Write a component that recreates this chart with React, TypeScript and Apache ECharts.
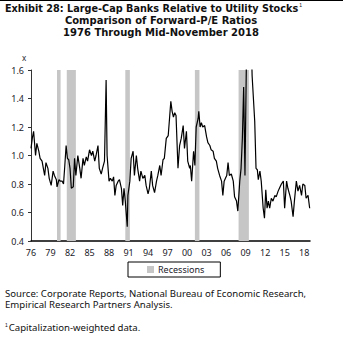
import React, { useEffect, useRef } from "react";
import * as echarts from "echarts";

const years = [
  1976.0, 1976.2, 1976.4, 1976.7, 1976.9, 1977.2, 1977.4, 1977.7, 1977.9, 1978.1,
  1978.3, 1978.6, 1978.8, 1979.1, 1979.4, 1979.6, 1979.9, 1980.0, 1980.3, 1980.5,
  1980.8, 1981.0, 1981.2, 1981.4, 1981.6, 1981.8, 1982.0, 1982.2, 1982.5, 1982.7,
  1982.9, 1983.2, 1983.5, 1983.7, 1984.0, 1984.2, 1984.5, 1984.7, 1985.0, 1985.3,
  1985.5, 1985.8, 1986.0, 1986.3, 1986.5, 1986.8, 1987.0, 1987.3, 1987.55, 1987.7,
  1988.0, 1988.2, 1988.5, 1988.7, 1988.9, 1989.1, 1989.4, 1989.6, 1989.9, 1990.1,
  1990.3, 1990.5, 1990.8, 1990.9, 1991.2, 1991.4, 1991.7, 1991.9, 1992.2, 1992.4,
  1992.7, 1992.9, 1993.2, 1993.5, 1993.7, 1994.0, 1994.2, 1994.5, 1994.7, 1995.0,
  1995.3, 1995.5, 1995.8, 1996.0, 1996.3, 1996.5, 1996.8, 1997.1, 1997.3, 1997.5,
  1997.7, 1997.9, 1998.1, 1998.3, 1998.6, 1998.85, 1999.1, 1999.4, 1999.6, 1999.9,
  2000.1, 2000.4, 2000.5, 2000.7, 2001.0, 2001.2, 2001.4, 2001.7, 2001.8, 2002.0,
  2002.2, 2002.4, 2002.7, 2003.0, 2003.2, 2003.5, 2003.7, 2004.0, 2004.2, 2004.5,
  2004.7, 2005.0, 2005.3, 2005.5, 2005.7, 2005.9, 2006.1, 2006.3, 2006.5, 2006.8,
  2007.1, 2007.3, 2007.6, 2007.8, 2008.1, 2008.3, 2008.5, 2008.7, 2008.9, 2009.1,
  2009.3, 2009.5, 2009.7, 2009.9, 2010.0, 2010.4, 2010.6, 2010.8, 2010.95, 2011.2,
  2011.4, 2011.7, 2011.9, 2012.1, 2012.3, 2012.5, 2012.7, 2012.95, 2013.2, 2013.5,
  2013.7, 2014.0, 2014.2, 2014.5, 2014.8, 2015.0, 2015.3, 2015.5, 2015.8, 2016.0,
  2016.3, 2016.5, 2016.8, 2017.05, 2017.3, 2017.6, 2017.8, 2018.1, 2018.3, 2018.6,
  2018.85,
];

const ratio = [
  1.05, 1.12, 1.17, 1.0, 1.085, 1.03, 0.98, 0.96, 0.91, 0.86,
  0.95, 0.91, 0.84, 0.79, 0.89, 0.86, 0.83, 0.78, 0.83, 0.82,
  0.82, 0.8, 0.93, 1.07, 0.98, 0.97, 0.91, 0.77, 0.78, 0.98,
  0.86, 1.0, 0.91, 0.84, 0.98, 0.93, 0.99, 0.96, 1.04, 1.0,
  1.03, 0.96, 1.0, 1.07, 0.91, 0.87, 0.91, 0.96, 1.53, 1.0,
  0.82, 0.84, 0.82, 0.85, 0.72, 0.79, 0.82, 0.83, 0.77, 0.65,
  0.77, 0.68, 0.5, 0.72, 0.82, 0.98, 1.03, 0.86, 1.0, 0.91,
  0.82, 0.89, 0.84, 0.86, 0.79, 0.73, 0.77, 0.89, 0.79, 0.74,
  0.82, 0.86, 0.93, 0.86, 0.97, 0.98, 1.12, 1.14, 1.26, 1.38,
  1.31, 1.27, 1.3, 1.28, 0.91, 1.07, 1.12, 1.21, 1.05, 1.17,
  0.96, 0.91, 0.93, 0.82, 1.03, 0.93, 1.2, 1.26, 1.31, 1.2,
  1.23, 1.2, 1.21, 1.13, 1.09, 1.07, 1.04, 1.03, 0.98, 0.96,
  0.91, 0.86, 0.82, 0.72, 0.82, 0.84, 0.86, 0.95, 0.86, 0.87,
  0.82, 0.71, 0.68, 0.61, 0.82, 0.91, 1.12, 1.48, 0.86, 1.59,
  2.3, 2.6, 2.2, 1.75, 1.56, 1.24, 0.91, 0.9, 0.83, 0.89,
  0.82, 0.63, 0.56, 0.76, 0.63, 0.68, 0.63, 0.7, 0.68, 0.72,
  0.71, 0.75, 0.77, 0.8, 0.82, 0.63, 0.82, 0.77, 0.72, 0.68,
  0.57, 0.68, 0.82, 0.75, 0.79, 0.72, 0.8, 0.79, 0.7, 0.72,
  0.63,
];

const recessionStart = [1980.0, 1981.5, 1990.5, 2001.2, 2007.92];
const recessionEnd = [1980.55, 1982.9, 1991.2, 2001.9, 2009.5];

const baseYear = 1976;
const xTickLabels = ["76", "79", "82", "85", "88", "91", "94", "97", "00", "03", "06", "09", "12", "15", "18"];

const FONT = "'Noto Sans', sans-serif";
const TITLE_FONT = "'DejaVu Sans', sans-serif";

export default function App() {
  const ref = useRef<HTMLDivElement>(null);
  useEffect(() => {
    if (!ref.current) return;
    const chart = echarts.init(ref.current, null, { renderer: "svg" });
    const lineData = years.map((y, i) => [y - baseYear, ratio[i]]);
    const recData = recessionStart.map((s, i) => [s - baseYear, recessionEnd[i] - baseYear]);
    const titleStyle = (text: string) => ({
      text,
      font: `bold 10px ${TITLE_FONT}`,
      lineHeight: 12,
      fill: "#111",
      align: "center",
      verticalAlign: "middle",
    });
    chart.setOption({
      animation: false,
      textStyle: { fontFamily: FONT },
      grid: { left: 31, right: 46, top: 70, bottom: 98, containLabel: false },
      xAxis: {
        type: "value",
        min: 0,
        max: 42.9,
        interval: 3,
        splitLine: { show: false },
        axisTick: { show: false },
        axisLine: { show: true, lineStyle: { color: "#000", width: 1.5 } },
        axisLabel: {
          color: "#1b1b2a",
          fontSize: 9,
          margin: 7,
          showMaxLabel: false,
          formatter: (v: number) => {
            const idx = Math.round(v / 3);
            return Math.abs(v - idx * 3) < 1e-6 && xTickLabels[idx] ? xTickLabels[idx] : "";
          },
        },
      },
      yAxis: {
        type: "value",
        min: 0.4,
        max: 1.6,
        interval: 0.2,
        splitLine: { show: false },
        axisLine: { show: true, lineStyle: { color: "#333", width: 1 } },
        axisTick: { show: true, length: 3, lineStyle: { color: "#333" } },
        axisLabel: {
          color: "#1b1b2a",
          fontSize: 9,
          margin: 7,
          formatter: (v: number) => v.toFixed(1),
        },
      },
      legend: {
        left: 128,
        top: 262,
        data: [{ name: "Recessions", icon: "rect" }],
        itemWidth: 7,
        itemHeight: 7,
        itemGap: 4,
        padding: [3, 16, 3, 19],
        borderColor: "#000",
        borderWidth: 1,
        textStyle: { fontSize: 9, color: "#1b1b2a", fontFamily: FONT, padding: [0, 0, 0, -1] },
      },
      series: [
        {
          name: "Recessions",
          type: "custom",
          color: "#c6c6c6",
          itemStyle: { color: "#c6c6c6" },
          data: recData,
          encode: { x: [0, 1] },
          z: 1,
          renderItem: (params: any, api: any) => {
            const p0 = api.coord([api.value(0), 1.6]);
            const p1 = api.coord([api.value(1), 0.4]);
            return {
              type: "rect",
              shape: { x: p0[0], y: p0[1], width: p1[0] - p0[0], height: p1[1] - p0[1] },
              style: { fill: "#c6c6c6" },
            };
          },
        },
        {
          name: "Ratio",
          type: "line",
          data: lineData,
          symbol: "none",
          clip: true,
          z: 3,
          lineStyle: { color: "#000", width: 1.2 },
        },
      ],
      graphic: [
        { type: "line", shape: { x1: 0, y1: 0.5, x2: 343, y2: 0.5 }, style: { stroke: "#000", lineWidth: 1 } },
        {
          type: "text",
          x: 5,
          y: 8.1,
          style: {
            text: "Exhibit 28: Large-Cap Banks Relative to Utility Stocks{s|1}",
            rich: { s: { fontSize: 5, lineHeight: 10, verticalAlign: "top", padding: [0, 0, 5, 1] } },
            font: `bold 9.7px ${TITLE_FONT}`,
            lineHeight: 12,
            fill: "#111",
            verticalAlign: "middle",
          },
        },
        { type: "text", x: 161, y: 20.4, style: titleStyle("Comparison of Forward-P/E Ratios") },
        { type: "text", x: 161, y: 32.7, style: titleStyle("1976 Through Mid-November 2018") },
        {
          type: "text",
          x: 24,
          y: 57,
          style: { text: "x", font: `8px ${FONT}`, fill: "#1b1b2a", align: "center", verticalAlign: "middle" },
        },
        {
          type: "text",
          x: 5,
          y: 293,
          style: {
            text: "Source: Corporate Reports, National Bureau of Economic Research,",
            font: `9.6px ${FONT}`,
            lineHeight: 11,
            fill: "#111",
            verticalAlign: "middle",
          },
        },
        {
          type: "text",
          x: 5,
          y: 304.5,
          style: {
            text: "Empirical Research Partners Analysis.",
            font: `9.6px ${FONT}`,
            lineHeight: 11,
            fill: "#111",
            verticalAlign: "middle",
          },
        },
        {
          type: "text",
          x: 5,
          y: 327,
          style: {
            text: "{s|1}Capitalization-weighted data.",
            rich: { s: { fontSize: 5, verticalAlign: "top", padding: [0, 1, 5, 0] } },
            font: `9.6px ${FONT}`,
            fill: "#111",
            verticalAlign: "middle",
          },
        },
      ],
    });
    return () => chart.dispose();
  }, []);
  return <div ref={ref} style={{ width: 356, height: 339, position: "absolute", left: 0, top: 0 }} />;
}
